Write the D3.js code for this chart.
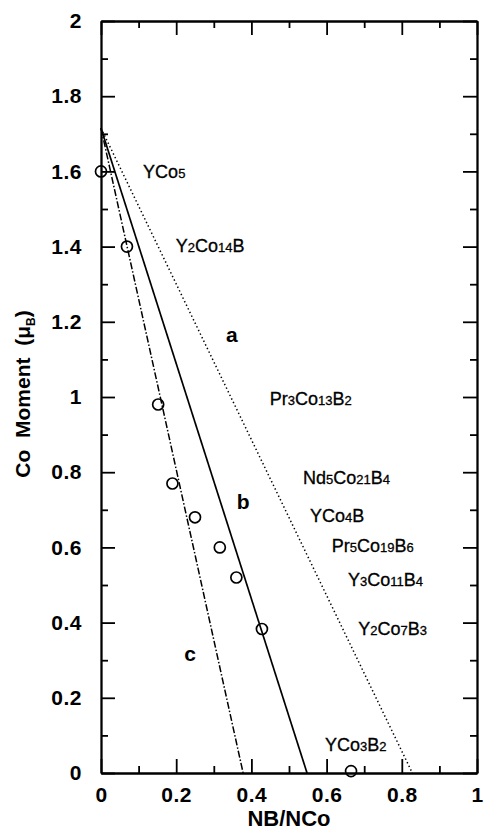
<!DOCTYPE html>
<meta charset="utf-8">
<style>
body { margin: 0; background: #fff; }
text { font-family: "Liberation Sans", Arial, sans-serif; fill: #000; }
.tick text { font-size: 21px; font-weight: bold; letter-spacing: 0.5px; }
.axis path, .axis line { stroke: #000; stroke-width: 1.8; }
</style>
<svg width="484" height="836"></svg>
<script src="https://cdn.jsdelivr.net/npm/d3@7"></script>
<script>
	var svg = d3.select("svg");

	// measured points: NB/NCo vs Co moment
	var ratio  = [0, 0.069, 0.152, 0.19, 0.25, 0.316, 0.36, 0.428, 0.665];
	var moment = [1.60, 1.40, 0.98, 0.77, 0.68, 0.60, 0.52, 0.383, 0.005];

	// model lines, all from the same start value down to an x intercept
	var lineNames = ["a", "b", "c"];
	var lineStartY = [1.715, 1.715, 1.715];
	var lineEndX = [0.828, 0.548, 0.378];
	var lineDash = ["1.4,2.6", null, "7,2,1.5,2"];
	var lineLabelX = [0.348, 0.378, 0.237];
	var lineLabelY = [1.146, 0.702, 0.298];

	// compound labels
	var compounds = ["YCo5", "Y2Co14B", "Pr3Co13B2", "Nd5Co21B4", "YCo4B", "Pr5Co19B6", "Y3Co11B4", "Y2Co7B3", "YCo3B2"];
	var compoundX = [0.112, 0.199, 0.449, 0.537, 0.556, 0.614, 0.657, 0.684, 0.596];
	var compoundY = [1.582, 1.386, 0.978, 0.769, 0.668, 0.588, 0.497, 0.368, 0.059];

	var xTicks = [0, 0.2, 0.4, 0.6, 0.8, 1];
	var xMinor = [0.1, 0.3, 0.5, 0.7, 0.9];
	var yTicks = [0, 0.2, 0.4, 0.6, 0.8, 1, 1.2, 1.4, 1.6, 1.8, 2];
	var yMinor = [0.1, 0.3, 0.5, 0.7, 0.9, 1.1, 1.3, 1.5, 1.7, 1.9];

	var plotLeft = 101, plotRight = 477, plotTop = 21, plotBottom = 773;
	var x = d3.scaleLinear().domain([0, 1]).range([plotLeft, plotRight]);
	var y = d3.scaleLinear().domain([0, 2]).range([plotBottom, plotTop]);

	function addAxis(axisFn, scale, values, size, transform, pad) {
		var a = axisFn(scale).tickValues(values).tickSizeInner(-size).tickSizeOuter(0).tickPadding(pad || 0);
		if (!pad) a.tickFormat("");
		else a.tickFormat(function(d) { return String(d); });
		return svg.append("g").attr("class", "axis").attr("transform", transform).call(a);
	}

	addAxis(d3.axisLeft, y, yTicks, 14, "translate(" + plotLeft + ",0)", 19);
	addAxis(d3.axisLeft, y, yMinor, 7, "translate(" + plotLeft + ",0)");
	addAxis(d3.axisRight, y, yTicks, 14, "translate(" + plotRight + ",0)");
	addAxis(d3.axisRight, y, yMinor, 7, "translate(" + plotRight + ",0)");
	addAxis(d3.axisBottom, x, xTicks, 14, "translate(0," + plotBottom + ")", 14);
	addAxis(d3.axisBottom, x, xMinor, 7, "translate(0," + plotBottom + ")");
	addAxis(d3.axisTop, x, xTicks, 14, "translate(0," + plotTop + ")");
	addAxis(d3.axisTop, x, xMinor, 7, "translate(0," + plotTop + ")");
	svg.selectAll(".axis .tick text").attr("fill", "#000");

	// lines
	lineNames.forEach(function(name, i) {
		svg.append("line")
			.attr("x1", x(0)).attr("y1", y(lineStartY[i]))
			.attr("x2", x(lineEndX[i])).attr("y2", y(0))
			.style("stroke", "#000")
			.style("stroke-width", i === 1 ? 1.7 : 1.5)
			.style("stroke-dasharray", lineDash[i]);
		svg.append("text")
			.attr("x", x(lineLabelX[i]))
			.attr("y", y(lineLabelY[i]))
			.style("text-anchor", "middle")
			.style("font-size", "21px")
			.style("font-weight", "bold")
			.text(name);
	});

	// points
	svg.selectAll(".pt")
		.data(ratio)
		.enter().append("circle")
		.attr("class", "pt")
		.attr("cx", function(d) { return x(d); })
		.attr("cy", function(d, i) { return y(moment[i]); })
		.attr("r", 5.5)
		.style("fill", "none")
		.style("stroke", "#000")
		.style("stroke-width", 1.7);

	// compound labels with subscript digits
	compounds.forEach(function(name, i) {
		var t = svg.append("text")
			.attr("x", x(compoundX[i]))
			.attr("y", y(compoundY[i]))
			.style("font-size", "18px")
			.style("stroke", "#000")
			.style("stroke-width", 0.3);
		name.match(/\d+|\D+/g).forEach(function(part) {
			var sp = t.append("tspan").text(part);
			if (/\d/.test(part)) sp.style("font-size", "13px");
		});
	});

	// axis titles
	svg.append("text")
		.attr("x", (plotLeft + plotRight) / 2)
		.attr("y", 826)
		.style("text-anchor", "middle")
		.style("font-size", "22px")
		.style("font-weight", "bold")
		.text("NB/NCo");

	var yt = svg.append("text")
		.attr("transform", "translate(30,394) rotate(-90)")
		.style("text-anchor", "middle")
		.style("font-size", "21px")
		.style("font-weight", "bold")
		.attr("xml:space", "preserve");
	yt.append("tspan").text("Co  Moment  (\u03bc");
	yt.append("tspan").attr("dy", 5).style("font-size", "12px").text("B");
	yt.append("tspan").attr("dy", -5).text(")");
</script>
